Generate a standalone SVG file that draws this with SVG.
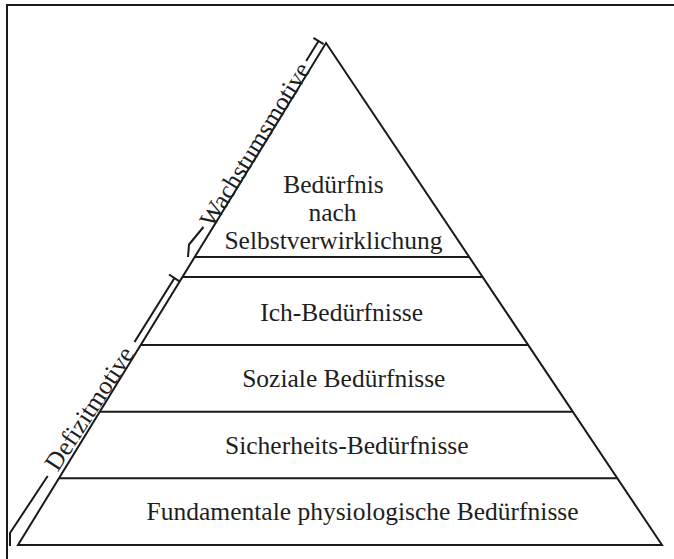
<svg xmlns="http://www.w3.org/2000/svg" width="674" height="559" viewBox="0 0 674 559">
<style>
.ln{fill:none;stroke:#1a1a1a;stroke-width:2;stroke-linecap:butt;stroke-linejoin:miter}
.t{font-family:"Liberation Serif","Times New Roman",serif;font-size:25.5px;fill:#1e1e1e;text-anchor:middle}
</style>
<rect width="674" height="559" fill="#ffffff"/>
<g id="frame">
<path class="ln" d="M7 559 V5 H674"/>
</g>
<g id="pyramid">
<polygon class="ln" points="326,43 662,545 18,545" stroke-width="2.3"/>
</g>
<g id="connectors">
<line class="ln" x1="194.7" y1="257" x2="469.2" y2="257"/>
<line class="ln" x1="182.4" y1="277" x2="482.6" y2="277"/>
<line class="ln" x1="140.7" y1="345" x2="528.1" y2="345"/>
<line class="ln" x1="99.8" y1="411.7" x2="572.8" y2="411.7"/>
<line class="ln" x1="58.9" y1="478.3" x2="617.4" y2="478.3"/>
</g>
<g id="level-selbstverwirklichung">
<text class="t" x="333.5" y="193">Bedürfnis</text>
<text class="t" x="332.5" y="221">nach</text>
<text class="t" x="333.5" y="248.5">Selbstverwirklichung</text>
</g>
<g id="level-ich">
<text class="t" x="341.7" y="320.5">Ich-Bedürfnisse</text>
</g>
<g id="level-sozial">
<text class="t" x="343.8" y="386.7">Soziale Bedürfnisse</text>
</g>
<g id="level-sicherheit">
<text class="t" x="346.8" y="453.5">Sicherheits-Bedürfnisse</text>
</g>
<g id="level-fundamental">
<text class="t" x="362.6" y="520">Fundamentale physiologische Bedürfnisse</text>
</g>
<g id="dim-wachstum">
<line class="ln" x1="313.4" y1="37.9" x2="323.6" y2="44.1"/>
<line class="ln" x1="318.5" y1="41" x2="306.2" y2="61"/>
<path class="ln" d="M203.5 227 L189 244.5 L188 257"/>
<text class="t" transform="translate(255.6,145) rotate(-58.45)" dy="0.3em">Wachstumsmotive</text>
</g>
<g id="dim-defizit">
<line class="ln" x1="169" y1="274.5" x2="179.5" y2="281.3"/>
<line class="ln" x1="174.5" y1="278" x2="134.5" y2="342"/>
<path class="ln" d="M47.7 476 L10 533 L10 546"/>
<text class="t" transform="translate(90,409) rotate(-57)" dy="0.3em">Defizitmotive</text>
</g>
</svg>
